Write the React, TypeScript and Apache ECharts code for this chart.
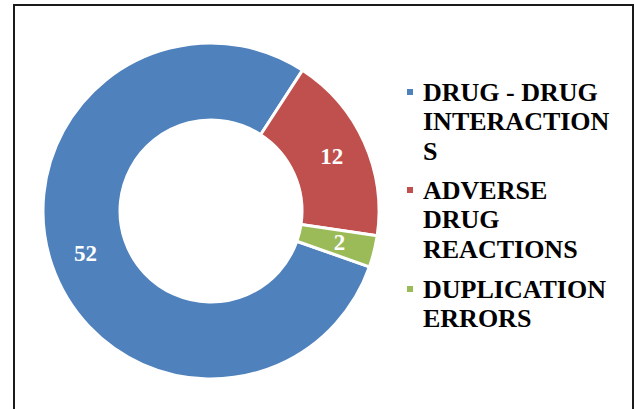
import React, { useEffect, useRef } from "react";
import * as echarts from "echarts";

const categories = ["DRUG - DRUG INTERACTIONS", "ADVERSE DRUG REACTIONS", "DUPLICATION ERRORS"];
const values = [52, 12, 2];
const colors = ["#4F81BD", "#C0504D", "#9BBB59"];
const legendLines = [
  ["DRUG - DRUG", "INTERACTION", "S"],
  ["ADVERSE", "DRUG", "REACTIONS"],
  ["DUPLICATION", "ERRORS"],
];

const FONT = "'Liberation Serif', 'Times New Roman', serif";
const LINE_H = 29.5;
const iconCenters = [92, 190, 289];

export default function App() {
  const ref = useRef<HTMLDivElement>(null);
  useEffect(() => {
    if (!ref.current) return;
    const chart = echarts.init(ref.current, null, { renderer: "svg" });
    const legends = categories.map((name, i) => {
      const n = legendLines[i].length;
      return {
        orient: "vertical",
        left: 405,
        top: iconCenters[i] - ((2 * n - 1) * LINE_H) / 2,
        padding: 0,
        itemWidth: 8,
        itemHeight: 8,
        icon: "rect",
        selectedMode: false,
        data: [name],
        formatter: () => "\n".repeat(n - 1) + legendLines[i].join("\n"),
        textStyle: {
          fontFamily: FONT,
          fontWeight: "bold",
          fontSize: 26,
          lineHeight: LINE_H,
          color: "#000",
          padding: [0, 0, 0, 4],
        },
      };
    });
    chart.setOption({
      animation: false,
      backgroundColor: "#fff",
      color: colors,
      legend: legends,
      graphic: [
        {
          type: "rect",
          shape: { x: 14, y: 5, width: 619, height: 420 },
          style: { fill: "none", stroke: "#1a1a1a", lineWidth: 2 },
          silent: true,
        },
      ],
      series: [
        {
          type: "pie",
          center: [211, 211],
          radius: [91, 168],
          startAngle: -19.4,
          clockwise: true,
          avoidLabelOverlap: false,
          emphasis: { disabled: true },
          itemStyle: { borderColor: "#fff", borderWidth: 3 },
          label: {
            show: true,
            position: "inside",
            formatter: "{c}",
            color: "#fff",
            fontFamily: FONT,
            fontWeight: "bold",
            fontSize: 23,
          },
          labelLine: { show: false },
          data: categories.map((name, i) => ({ name, value: values[i] })),
        },
      ],
    });
    return () => chart.dispose();
  }, []);
  return (
    <div
      ref={ref}
      style={{ position: "absolute", left: 0, top: 0, width: 634, height: 409 }}
    />
  );
}
